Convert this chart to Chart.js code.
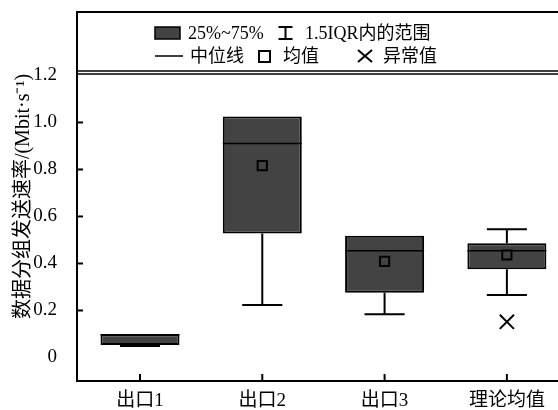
<!DOCTYPE html>
<html>
<head>
<meta charset="utf-8">
<script src="https://cdn.jsdelivr.net/npm/chart.js@4.4.1/dist/chart.umd.min.js"></script>
<style>
  html, body { margin: 0; padding: 0; background: #fff; overflow: hidden; }
  #wrap { width: 558px; height: 410px; }
</style>
</head>
<body>
<div id="wrap"><canvas id="c" width="558" height="410"></canvas></div>
<script>
// ---- data ----
const categories = ['出口1', '出口2', '出口3', '理论均值'];
const q1          = [0.053, 0.528, 0.276, 0.375];
const q3          = [0.099, 1.025, 0.518, 0.486];
const medians     = [0.097, 0.911, 0.454, 0.454];
const whiskerLow  = [0.049, 0.223, 0.184, 0.266];
const whiskerHigh = [0.099, 1.025, 0.518, 0.546];
const means       = [null, 0.816, 0.409, 0.436];
const outliers    = [[], [], [], [0.152]];
const yTickValues = [0, 0.2, 0.4, 0.6, 0.8, 1.0, 1.2];
const yTickLabels = ['0', '0.2', '0.4', '0.6', '0.8', '1.0', '1.2'];
const yTitle = '数据分组发送速率/(Mbit·s⁻¹)';
const legendRow1 = ['25%~75%', '1.5IQR内的范围'];
const legendRow2 = ['中位线', '均值', '异常值'];

// ---- style ----
const FONT = "'Liberation Serif', 'Noto Sans CJK SC', serif";
const BOX_FILL = '#434343';
const BOX_HALF = 0.323;   // half box width in category units
const CAP_HALF = 0.164;   // half whisker-cap width in category units

Chart.defaults.font.family = FONT;
Chart.defaults.color = '#000';

// whisker stems and caps as broken line segments
const whiskerPts = [];
categories.forEach((c, i) => {
  const gap = { x: i, y: null };
  if (whiskerLow[i] < q1[i]) {
    whiskerPts.push({ x: i, y: q1[i] }, { x: i, y: whiskerLow[i] }, gap);
    whiskerPts.push({ x: i - CAP_HALF, y: whiskerLow[i] }, { x: i + CAP_HALF, y: whiskerLow[i] }, gap);
  }
  if (whiskerHigh[i] > q3[i]) {
    whiskerPts.push({ x: i, y: q3[i] }, { x: i, y: whiskerHigh[i] }, gap);
    whiskerPts.push({ x: i - CAP_HALF, y: whiskerHigh[i] }, { x: i + CAP_HALF, y: whiskerHigh[i] }, gap);
  }
});

const medianPts = [];
categories.forEach((c, i) => {
  medianPts.push({ x: i - BOX_HALF, y: medians[i] }, { x: i + BOX_HALF, y: medians[i] }, { x: i, y: null });
});

const meanPts = means.map((m, i) => ({ x: i, y: m }));
const outlierPts = [];
outliers.forEach((list, i) => list.forEach(v => outlierPts.push({ x: i, y: v })));

function seg(ctx, x1, y1, x2, y2, w) {
  ctx.beginPath();
  ctx.lineWidth = w;
  ctx.moveTo(x1, y1);
  ctx.lineTo(x2, y2);
  ctx.stroke();
}

// frame top, legend panel and inward tick marks
const framePlugin = {
  id: 'frame',
  afterDraw(chart) {
    const { ctx, chartArea } = chart;
    const L = chartArea.left, R = chartArea.right, T = chartArea.top, B = chartArea.bottom;
    ctx.save();
    ctx.strokeStyle = '#000';
    ctx.fillStyle = '#fff';
    ctx.fillRect(L + 1, T + 1, R - L, 58);
    seg(ctx, L - 1, T, R, T, 2);
    seg(ctx, L, T + 59, R, T + 59, 1.5);
    seg(ctx, L, T + 62, R, T + 62, 1.5);

    // inner tick marks between the end labels
    const ys = chart.scales.y, xs = chart.scales.x;
    yTickValues.slice(1, -1).forEach(v => {
      const py = ys.getPixelForValue(v);
      seg(ctx, L, py, L + 6, py, 2);
    });
    categories.forEach((c, i) => {
      const px = xs.getPixelForValue(i);
      seg(ctx, px, B, px, B - 7, 2);
    });

    // legend
    const r1 = T + 21, r2 = T + 45;
    ctx.font = "18px " + FONT;
    ctx.textBaseline = 'middle';
    ctx.textAlign = 'left';
    // box swatch
    ctx.fillStyle = BOX_FILL;
    ctx.fillRect(L + 78, r1 - 6, 25, 12);
    ctx.lineWidth = 1.5;
    ctx.strokeRect(L + 78, r1 - 6, 25, 12);
    ctx.fillStyle = '#000';
    ctx.fillText(legendRow1[0], L + 111, r1 + 1);
    // whisker icon
    const wx = L + 208.5;
    seg(ctx, wx - 7, r1 - 6, wx + 7, r1 - 6, 2);
    seg(ctx, wx, r1 - 6, wx, r1 + 6, 2);
    seg(ctx, wx - 7, r1 + 6, wx + 7, r1 + 6, 2);
    ctx.fillText(legendRow1[1], L + 228, r1 + 1);
    // median
    seg(ctx, L + 78, r2 - 1, L + 106, r2 - 1, 1.5);
    ctx.fillText(legendRow2[0], L + 113, r2);
    // mean
    ctx.lineWidth = 2;
    ctx.strokeRect(L + 182, r2 - 6, 11, 11);
    ctx.fillText(legendRow2[1], L + 206, r2);
    // outlier
    const ox = L + 288, oy = r2 - 1;
    seg(ctx, ox - 7, oy - 6, ox + 7, oy + 6, 2);
    seg(ctx, ox - 7, oy + 6, ox + 7, oy - 6, 2);
    ctx.fillText(legendRow2[2], L + 306, r2);
    ctx.restore();
  }
};

new Chart(document.getElementById('c'), {
  type: 'bar',
  data: {
    datasets: [
      {
        type: 'bar',
        order: 4,
        data: categories.map((c, i) => ({ x: i, y: [q1[i], q3[i]] })),
        backgroundColor: BOX_FILL,
        borderColor: '#000',
        borderWidth: 2,
        borderSkipped: false,
        barPercentage: 0.646,
        categoryPercentage: 1.0
      },
      {
        type: 'line',
        order: 3,
        data: whiskerPts,
        borderColor: '#000',
        borderWidth: 2,
        pointRadius: 0,
        spanGaps: false,
        fill: false
      },
      {
        type: 'line',
        order: 2,
        data: medianPts,
        borderColor: '#000',
        borderWidth: 1.5,
        pointRadius: 0,
        spanGaps: false,
        fill: false
      },
      {
        type: 'line',
        order: 1,
        data: meanPts,
        showLine: false,
        pointStyle: 'rect',
        pointRadius: 6.5,
        pointBackgroundColor: BOX_FILL,
        pointBorderColor: '#000',
        pointBorderWidth: 2
      },
      {
        type: 'line',
        order: 0,
        data: outlierPts,
        showLine: false,
        pointStyle: 'crossRot',
        pointRadius: 10,
        pointBorderColor: '#000',
        pointBorderWidth: 2
      }
    ]
  },
  options: {
    responsive: false,
    animation: false,
    events: [],
    layout: { autoPadding: false, padding: { top: 12, right: 0, left: 0, bottom: 0 } },
    plugins: { legend: { display: false }, tooltip: { enabled: false } },
    scales: {
      x: {
        type: 'linear',
        offset: false,
        min: -0.515,
        max: 3.418,
        afterBuildTicks: s => { s.ticks = categories.map((c, i) => ({ value: i })); },
        afterFit: s => { s.height = 29; s.paddingRight = 0; s.paddingLeft = 0; },
        grid: { display: false },
        border: { display: true, color: '#000', width: 2 },
        ticks: {
          autoSkip: false,
          maxRotation: 0,
          padding: 1,
          font: { size: 19 },
          callback: v => categories[v]
        }
      },
      y: {
        type: 'linear',
        min: -0.1,
        max: 1.47,
        afterBuildTicks: s => { s.ticks = yTickValues.map(v => ({ value: v })); },
        afterFit: s => { s.width = 77; s.paddingTop = 0; s.paddingBottom = 0; },
        grid: { display: false },
        border: { display: true, color: '#000', width: 2 },
        ticks: {
          padding: 12,
          font: { size: 19 },
          callback: v => yTickLabels[yTickValues.indexOf(v)]
        },
        title: {
          display: true,
          text: yTitle,
          font: { size: 20 },
          padding: { top: 12, bottom: 0 }
        }
      }
    }
  },
  plugins: [framePlugin]
});
</script>
</body>
</html>
